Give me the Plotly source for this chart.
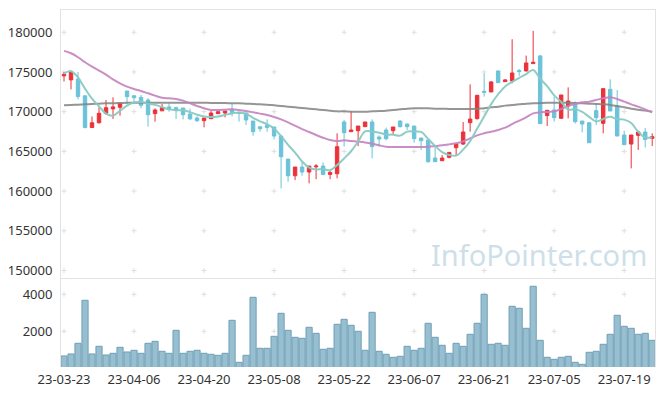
import plotly.graph_objects as go

dates = ["23-03-23","23-03-24","23-03-27","23-03-28","23-03-29","23-03-30","23-03-31",
         "23-04-03","23-04-04","23-04-05","23-04-06","23-04-07","23-04-10","23-04-11",
         "23-04-12","23-04-13","23-04-14","23-04-17","23-04-18","23-04-19","23-04-20",
         "23-04-21","23-04-24","23-04-25","23-04-26","23-04-27","23-04-28","23-05-02",
         "23-05-03","23-05-04","23-05-08","23-05-09","23-05-10","23-05-11","23-05-12",
         "23-05-15","23-05-16","23-05-17","23-05-18","23-05-19","23-05-22","23-05-23",
         "23-05-24","23-05-25","23-05-26","23-05-30","23-05-31","23-06-01","23-06-02",
         "23-06-05","23-06-07","23-06-08","23-06-09","23-06-12","23-06-13","23-06-14",
         "23-06-15","23-06-16","23-06-19","23-06-20","23-06-21","23-06-22","23-06-23",
         "23-06-26","23-06-27","23-06-28","23-06-29","23-06-30","23-07-03","23-07-04",
         "23-07-05","23-07-06","23-07-07","23-07-10","23-07-11","23-07-12","23-07-13",
         "23-07-14","23-07-17","23-07-18","23-07-19","23-07-20","23-07-21","23-07-24",
         "23-07-25"]

open_ = [174500,174000,174100,172000,168000,168600,169800,170350,170550,172600,
         172000,171800,171470,169750,170100,170600,170500,170460,169700,169200,
         168870,169120,169750,169830,170290,169920,169830,168820,168100,168280,
         168070,166930,164030,161930,163025,162400,163050,163150,162100,162180,
         168700,167480,167600,168110,168700,166800,167690,167600,168820,168450,
         168190,166680,166430,164160,163820,164250,165460,165920,168610,169120,
         172560,172480,175130,173780,173860,175170,175130,176050,177020,169500,
         170210,169160,170710,171050,168820,168610,170130,168530,172810,170710,
         167060,165920,167020,167440,166640]
high = [175000,175150,175000,172000,169400,170550,171470,171810,171050,172600,
        172000,172100,171700,170420,170970,171050,170630,170460,170380,169400,
        169200,170130,170000,170080,171050,169950,169830,168820,168100,169030,
        168070,166930,164030,163025,163800,163150,163400,163610,162520,167270,
        168950,170080,168190,168700,169030,167020,168000,168070,168900,168450,
        168190,166680,166430,165590,164540,164870,165920,168700,173440,172100,
        174830,173860,175130,174100,179120,175380,177060,180170,177140,170170,
        171890,172100,173060,171300,168820,168610,171050,172900,174070,172730,
        167600,167060,167440,167940,167270]
low = [173800,172800,171550,167900,167950,168500,169580,169080,169500,170920,
       171000,170420,168110,168740,170100,170000,169080,169030,168950,168700,
       168030,169100,169700,169290,169400,168740,168320,166970,167480,167480,
       166510,160340,161180,161390,161930,160970,161500,162000,161500,161600,
       165590,167480,165670,168110,164120,165590,166400,167180,168000,167690,
       166100,165170,163570,163700,163820,164120,164540,165800,167480,169000,
       171890,172480,173650,173780,173570,174500,175040,176050,168490,168190,
       168740,169160,169160,168500,167390,166090,168320,167270,170080,166930,
       165840,162860,165170,165500,165670]
close = [174700,175000,171900,168000,168600,169800,170500,170600,171050,171890,
         171750,170800,169620,170210,170500,170300,170200,169620,169100,168860,
         169200,169830,170000,170080,169830,169790,168950,167480,167860,168020,
         166930,164330,161930,163025,162400,163150,163150,162100,162350,165590,
         167350,167690,168190,168700,165590,166550,166600,168070,168110,168110,
         166600,166340,163700,163700,164160,164870,165920,167440,169070,172060,
         172440,173740,173650,174000,174870,175050,176130,176220,168490,170170,
         169240,172100,171340,168740,168440,166090,169240,172900,170080,166930,
         165840,167060,167440,166510,166850]

ma_short = [174800,175100,174300,172900,171640,170660,169760,169500,170110,170768,
            171158,171218,171022,170854,170576,170286,170166,170166,169944,169616,
            169396,169322,169398,169594,169788,169906,169730,169226,168782,168420,
            167848,166924,165814,164847,163723,162967,162731,162765,162630,163268,
            164108,165016,166234,167504,167504,167344,167126,167102,166984,167488,
            167498,167446,166572,165690,164900,164554,164470,165218,166292,167872,
            169386,170950,172192,173178,173740,174262,174740,175254,174152,173212,
            172050,171244,170268,170318,169972,169342,168770,169082,169350,169048,
            168998,168562,167470,166756,166740]
ma_mid = [177650,177350,176850,176220,175670,175170,174660,174070,173570,173150,
          172860,172600,172310,172020,171760,171680,171600,171390,171050,170710,
          170420,170210,170210,170250,170290,170210,170080,169920,169750,169580,
          169330,169030,168650,168230,167810,167440,167060,166720,166430,166300,
          166390,166300,166220,166130,165970,165760,165590,165550,165550,165550,
          165550,165550,165590,165670,165760,165880,166010,166260,166640,167020,
          167270,167480,167690,167980,168440,168860,169280,169790,169920,169960,
          170040,170340,170710,170970,171180,171260,171470,171680,171810,171600,
          171260,170920,170630,170290,169920]
ma_long = [170800,170840,170880,170920,170970,171010,171050,171050,171090,171130,
           171130,171130,171130,171130,171130,171130,171130,171130,171130,171130,
           171130,171090,171090,171090,171050,171050,171010,170970,170920,170880,
           170800,170710,170630,170550,170460,170380,170290,170210,170130,170040,
           170040,170000,170000,170000,170040,170080,170130,170210,170290,170380,
           170420,170420,170420,170380,170380,170340,170340,170340,170340,170380,
           170420,170550,170630,170760,170840,170920,171010,171050,171090,171130,
           171130,171130,171130,171090,171050,171010,170970,170920,170840,170710,
           170550,170380,170250,170130,170000]
volume = [667,775,1351,3676,775,1189,721,811,1135,883,
          973,811,1351,1460,919,811,2054,811,919,973,
          811,757,703,811,2595,324,703,3838,1081,1081,
          1730,2973,2054,1676,1622,2216,1892,1027,1081,2379,
          2649,2325,2000,973,3027,919,757,595,649,1189,
          973,1081,2433,1676,1243,811,1351,1189,1838,2433,
          4000,1297,1351,1243,3352,3244,2162,4433,1514,595,
          487,595,649,324,216,865,919,1297,1838,2865,
          2270,2162,1838,1892,1514]

price_ticks = [150000, 155000, 160000, 165000, 170000, 175000, 180000]
volume_ticks = [2000, 4000]
x_tick_labels = dates[::10]

UP = "#ec3139"
DOWN = "#6bc2d9"
GRID = "#dedede"
AXIS_LINE = "#e3e3e3"
FONT = dict(family="Noto Sans, Open Sans, sans-serif", size=13, color="#333333")

fig = go.Figure()

fig.add_trace(go.Candlestick(
    x=dates, open=open_, high=high, low=low, close=close,
    xaxis="x", yaxis="y",
    increasing=dict(line=dict(color=UP, width=1), fillcolor=UP),
    decreasing=dict(line=dict(color=DOWN, width=1), fillcolor=DOWN),
    whiskerwidth=0, showlegend=False))

fig.add_trace(go.Scatter(x=dates, y=ma_long, mode="lines", xaxis="x", yaxis="y",
                         line=dict(color="rgba(130,130,130,0.85)", width=2, shape="spline"),
                         showlegend=False))
fig.add_trace(go.Scatter(x=dates, y=ma_mid, mode="lines", xaxis="x", yaxis="y",
                         line=dict(color="rgba(196,130,192,0.9)", width=2, shape="spline"),
                         showlegend=False))
fig.add_trace(go.Scatter(x=dates, y=ma_short, mode="lines", xaxis="x", yaxis="y",
                         line=dict(color="rgba(135,202,194,0.95)", width=2, shape="spline"),
                         showlegend=False))

fig.add_trace(go.Bar(x=dates, y=volume, xaxis="x2", yaxis="y2",
                     marker=dict(color="#98bfd0", line=dict(color="#6f9fb7", width=1)),
                     showlegend=False))

# small "+" grid marks at tick intersections, drawn beneath the data
shapes = []
def add_cross(xref, yref, xi, yv):
    common = dict(type="line", xref=xref, yref=yref, layer="below",
                  xsizemode="pixel", ysizemode="pixel", xanchor=xi, yanchor=yv,
                  line=dict(color=GRID, width=1))
    shapes.append(dict(common, x0=-2.5, x1=2.5, y0=0, y1=0))
    shapes.append(dict(common, x0=0, x1=0, y0=-2.5, y1=2.5))

for lab in x_tick_labels:
    xi = dates.index(lab)
    for yv in price_ticks:
        add_cross("x", "y", xi, yv)
    for yv in volume_ticks:
        add_cross("x2", "y2", xi, yv)

# the page body adds an 8px margin, so the figure is sized 8px smaller
split = 0.2485
xr = [-0.43, 84.4]
fig.update_layout(
    width=657, height=388,
    margin=dict(l=53, r=10, t=2, b=29, autoexpand=False),
    paper_bgcolor="white", plot_bgcolor="white",
    font=FONT, bargap=0.12, shapes=shapes,
    xaxis=dict(type="category", domain=[0, 1], anchor="y", range=xr, automargin=False,
               categoryorder="array", categoryarray=dates,
               showticklabels=False, showgrid=False, zeroline=False,
               showline=True, mirror=True, linecolor=AXIS_LINE, linewidth=1,
               rangeslider=dict(visible=False)),
    yaxis=dict(domain=[split, 1], anchor="x", range=[149020, 182800], automargin=False,
               tickvals=price_ticks, ticktext=[str(v) for v in price_ticks],
               showgrid=False, zeroline=False, ticks="", ticklabelstandoff=5,
               showline=True, mirror=True, linecolor=AXIS_LINE, linewidth=1),
    xaxis2=dict(type="category", domain=[0, 1], anchor="y2", range=xr, automargin=False,
                categoryorder="array", categoryarray=dates,
                tickvals=x_tick_labels, ticktext=x_tick_labels,
                showgrid=False, zeroline=False, ticks="", ticklabelstandoff=3,
                showline=False, tickangle=0),
    yaxis2=dict(domain=[0, split], anchor="x2", range=[70, 4865], automargin=False,
                tickvals=volume_ticks, ticktext=[str(v) for v in volume_ticks],
                showgrid=False, zeroline=False, ticks="", ticklabelstandoff=5,
                showline=True, mirror=True, linecolor=AXIS_LINE, linewidth=1),
    annotations=[dict(text="InfoPointer.com", xref="paper", yref="paper",
                      x=0.804, y=0.3165, xanchor="center", yanchor="middle",
                      showarrow=False,
                      font=dict(family="Noto Sans, Open Sans, sans-serif", size=29,
                                color="#cddfe9"))],
)

fig.write_html("out.html")
